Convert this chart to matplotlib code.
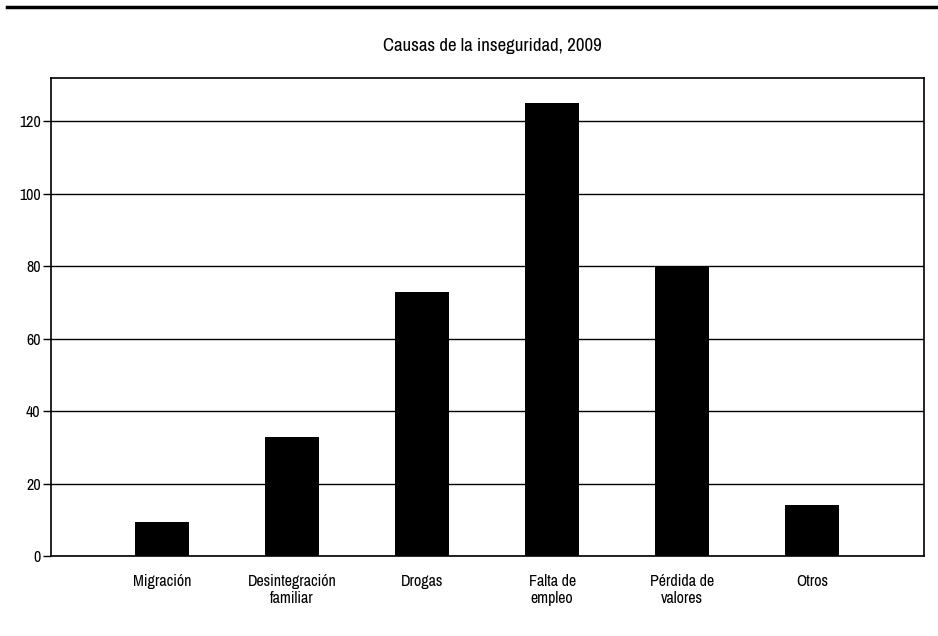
import matplotlib
matplotlib.use("Agg")
import matplotlib.pyplot as plt
from matplotlib.lines import Line2D
from matplotlib import font_manager

# buscar una fuente estrecha si existe
nombres = sorted({f.name for f in font_manager.fontManager.ttflist})
estrecha = [n for n in nombres if "Narrow" in n or "Condensed" in n]
fuente = estrecha[0] if estrecha else "Liberation Sans"
plt.rcParams['font.family'] = [fuente, 'DejaVu Sans']

categorias = ["Migración", "Desintegración\nfamiliar", "Drogas",
              "Falta de\nempleo", "Pérdida de\nvalores", "Otros"]
valores = [9.4, 33, 73, 125, 80, 14]
yticks = [0, 20, 40, 60, 80, 100, 120]

fig = plt.figure(figsize=(9.38, 6.36), dpi=100)
ax = fig.add_axes([51 / 938, 1 - 556 / 636, (924 - 51) / 938, (556 - 78) / 636])

x = range(len(categorias))
ax.bar(x, valores, width=0.42, color="black", zorder=3)

ax.set_xlim(-0.855, 5.86)
ax.set_ylim(0, 132)
ax.set_yticks(yticks)
ax.set_xticks(list(x))
ax.set_xticklabels(categorias, fontsize=11.5, linespacing=1.15)
ax.tick_params(axis="x", length=0, pad=13)
ax.tick_params(axis="y", length=5.5, width=1, labelsize=11.5, pad=2)
ax.yaxis.grid(True, color="black", linewidth=1)
ax.set_axisbelow(True)
for s in ax.spines.values():
    s.set_linewidth(1.2)
    s.set_color("black")

fig.text(0.525, 1 - 46 / 636, "Causas de la inseguridad, 2009",
         ha="center", va="center", fontsize=13.5)

# linea gruesa superior
fig.add_artist(Line2D([7 / 938, 1], [1 - 7 / 636, 1 - 7 / 636],
                      color="black", linewidth=2.5, transform=fig.transFigure))

fig.savefig("out.png", dpi=100)
